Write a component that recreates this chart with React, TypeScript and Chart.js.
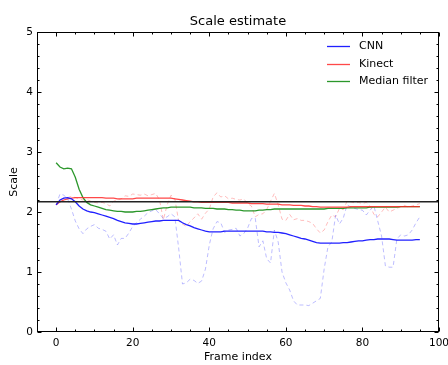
import React, { useEffect, useRef } from "react";
import { Chart, registerables } from "chart.js";

Chart.register(...registerables);

// ---- data ----
const cnnSmoothed = [
  2.12, 2.2, 2.23, 2.24, 2.22, 2.17, 2.1, 2.05, 2.02, 2.0,
  1.99, 1.97, 1.95, 1.93, 1.91, 1.89, 1.86, 1.84, 1.82, 1.81,
  1.8, 1.8, 1.81, 1.82, 1.83, 1.84, 1.85, 1.85, 1.86, 1.86,
  1.86, 1.86, 1.86, 1.82, 1.79, 1.77, 1.74, 1.72, 1.7, 1.68,
  1.67, 1.67, 1.67, 1.67, 1.68, 1.68, 1.68, 1.68, 1.68, 1.68,
  1.68, 1.68, 1.68, 1.68, 1.68, 1.67, 1.67, 1.66, 1.66, 1.65,
  1.64, 1.62, 1.6, 1.58, 1.56, 1.55, 1.53, 1.51, 1.49, 1.48,
  1.48, 1.48, 1.48, 1.48, 1.48, 1.49, 1.49, 1.5, 1.51, 1.52,
  1.52, 1.53, 1.54, 1.54, 1.55, 1.55, 1.55, 1.55, 1.54, 1.53,
  1.53, 1.53, 1.53, 1.53, 1.54, 1.54,
];

const kinectSmoothed = [
  2.12, 2.17, 2.2, 2.22, 2.23, 2.24, 2.24, 2.24, 2.24, 2.24,
  2.24, 2.24, 2.24, 2.23, 2.23, 2.23, 2.22, 2.22, 2.22, 2.22,
  2.22, 2.23, 2.23, 2.23, 2.23, 2.23, 2.23, 2.23, 2.23, 2.23,
  2.23, 2.22, 2.21, 2.2, 2.19, 2.18, 2.17, 2.17, 2.16, 2.16,
  2.16, 2.16, 2.16, 2.16, 2.16, 2.16, 2.15, 2.15, 2.15, 2.15,
  2.15, 2.14, 2.14, 2.14, 2.14, 2.13, 2.13, 2.13, 2.13, 2.12,
  2.12, 2.12, 2.11, 2.11, 2.11, 2.1, 2.1, 2.09, 2.09, 2.08,
  2.08, 2.08, 2.08, 2.08, 2.08, 2.08, 2.08, 2.09, 2.09, 2.09,
  2.09, 2.09, 2.09, 2.09, 2.09, 2.09, 2.09, 2.09, 2.09, 2.09,
  2.09, 2.09, 2.09, 2.09, 2.09, 2.09,
];

const medianFilter = [
  2.82, 2.75, 2.72, 2.73, 2.72, 2.58, 2.38, 2.24, 2.16, 2.12,
  2.1, 2.08, 2.06, 2.04, 2.03, 2.02, 2.01, 2.01, 2.0, 2.0,
  2.0, 2.01, 2.01, 2.02, 2.03, 2.04, 2.05, 2.06, 2.07, 2.07,
  2.08, 2.08, 2.08, 2.08, 2.08, 2.08, 2.07, 2.07, 2.07, 2.06,
  2.06, 2.06, 2.05, 2.05, 2.05, 2.04, 2.04, 2.03, 2.03, 2.02,
  2.02, 2.02, 2.02, 2.03, 2.03, 2.04, 2.04, 2.05, 2.05, 2.05,
  2.05, 2.05, 2.05, 2.05, 2.05, 2.05, 2.05, 2.05, 2.05, 2.05,
  2.05, 2.06, 2.06, 2.06, 2.06, 2.06, 2.07, 2.07, 2.07, 2.07,
  2.07, 2.07, 2.08, 2.08, 2.08, 2.08, 2.08, 2.08, 2.08, 2.08,
  2.09, 2.09, 2.09, 2.09, 2.09, 2.09,
];

const cnnRaw = [
  2.12, 2.3, 2.28, 2.22, 2.05, 1.85, 1.72, 1.64, 1.72, 1.76,
  1.79, 1.73, 1.71, 1.68, 1.55, 1.62, 1.45, 1.56, 1.56, 1.65,
  1.76, 1.82, 1.88, 1.93, 1.99, 2.02, 2.04, 1.97, 1.89, 1.92,
  1.97, 1.92, 1.4, 0.8, 0.82, 0.88, 0.86, 0.81, 0.85, 1.05,
  1.45, 1.72, 1.84, 1.82, 1.66, 1.7, 1.71, 1.73, 1.6, 1.64,
  1.73, 1.89, 1.9, 1.42, 1.52, 1.22, 1.15, 1.7, 1.5, 1.0,
  0.82, 0.7, 0.52, 0.45, 0.45, 0.45, 0.44, 0.48, 0.52, 0.56,
  1.05, 1.42, 1.5, 1.95, 1.8, 1.9, 2.12, 2.08, 2.06, 2.04,
  2.03, 1.95, 2.03, 2.1, 1.85, 1.6, 1.1, 1.08, 1.08, 1.55,
  1.62, 1.6, 1.62, 1.7, 1.82, 1.92,
];

const kinectRaw = [
  2.12, 2.2, 2.23, 2.24, 2.26, 2.24, 2.22, 2.2, 2.21, 2.18,
  2.16, 2.15, 2.16, 2.14, 2.1, 2.18, 2.2, 2.22, 2.27, 2.26,
  2.3, 2.29, 2.28, 2.3, 2.27, 2.29, 2.31, 2.2, 1.87, 2.12,
  2.28, 2.22, 1.85, 1.8, 1.76, 1.84, 1.9, 1.97, 1.88, 1.98,
  2.05, 2.25, 2.32, 2.25, 2.27, 2.22, 2.23, 2.21, 2.2, 2.22,
  2.14, 2.1, 1.92, 1.96, 1.97, 2.04, 2.18, 2.31, 2.12, 1.88,
  1.86, 1.96, 1.87, 1.89, 1.86, 1.86, 1.84, 1.81, 1.72, 1.65,
  1.7, 1.84, 1.95, 1.92, 2.06, 2.04, 2.18, 2.17, 2.15, 2.16,
  2.14, 2.16, 2.1, 1.96, 1.92, 2.0, 2.08, 2.0, 2.03, 2.06,
  2.09, 2.11, 2.08, 2.1, 2.12, 2.14,
];

const groundTruth = 2.17;
const X_MIN = -5;
const X_MAX = 100;
const Y_MIN = 0;
const Y_MAX = 5;
const xMajorStep = 20;
const xMinorStep = 5;
const yMajorStep = 1;
const yMinorStep = 0.2;
const chartTitle = "Scale estimate";

const FONT = '"DejaVu Sans", "Liberation Sans", sans-serif';

const toPoints = (arr: number[]) => arr.map((v, i) => ({ x: i, y: v }));

const frameTicksPlugin = {
  id: "frameTicks",
  afterDatasetsDraw(chart: any) {
    const { ctx, chartArea, scales } = chart;
    const { left, right, top, bottom } = chartArea;
    const xs = scales.x;
    const ys = scales.y;
    ctx.save();
    ctx.strokeStyle = "#000";
    ctx.lineWidth = 1;
    const L = Math.round(left) + 0.5;
    const R = Math.round(right) - 0.5;
    const T = Math.round(top) + 0.5;
    const B = Math.round(bottom) - 0.5;
    ctx.beginPath();
    const nx = Math.round((X_MAX - X_MIN) / xMinorStep);
    for (let k = 0; k <= nx; k++) {
      const v = X_MIN + k * xMinorStep;
      const major = Math.abs(v / xMajorStep - Math.round(v / xMajorStep)) < 1e-6;
      const len = major ? 4 : 2;
      const px = Math.round(xs.getPixelForValue(v)) + 0.5;
      ctx.moveTo(px, B);
      ctx.lineTo(px, B - len);
      ctx.moveTo(px, T);
      ctx.lineTo(px, T + len);
    }
    const ny = Math.round((Y_MAX - Y_MIN) / yMinorStep);
    for (let k = 0; k <= ny; k++) {
      const v = Y_MIN + k * yMinorStep;
      const major = Math.abs(v / yMajorStep - Math.round(v / yMajorStep)) < 1e-6;
      const len = major ? 4 : 2;
      const py = Math.round(ys.getPixelForValue(v)) + 0.5;
      ctx.moveTo(L, py);
      ctx.lineTo(L + len, py);
      ctx.moveTo(R, py);
      ctx.lineTo(R - len, py);
    }
    ctx.stroke();
    ctx.strokeRect(L, T, R - L, B - T);
    ctx.restore();
  },
};

const axesTitlePlugin = {
  id: "axesTitle",
  afterDraw(chart: any) {
    const { ctx, chartArea } = chart;
    ctx.save();
    ctx.font = `13px ${FONT}`;
    ctx.fillStyle = "#000";
    ctx.textAlign = "center";
    ctx.textBaseline = "alphabetic";
    ctx.fillText(chartTitle, (chartArea.left + chartArea.right) / 2, chartArea.top - 7);
    ctx.restore();
  },
};

const insideLegendPlugin = {
  id: "insideLegend",
  afterDraw(chart: any) {
    const { ctx, chartArea } = chart;
    const items = chart.data.datasets.filter((d: any) => d.inLegend);
    ctx.save();
    ctx.font = `11px ${FONT}`;
    ctx.textBaseline = "middle";
    ctx.textAlign = "left";
    items.forEach((d: any, i: number) => {
      const y = Math.round(chartArea.top + 14 + i * 17.5) + 0.5;
      const x0 = chartArea.right - 112;
      ctx.strokeStyle = d.borderColor;
      ctx.lineWidth = 1.3;
      ctx.beginPath();
      ctx.moveTo(x0, y);
      ctx.lineTo(x0 + 23, y);
      ctx.stroke();
      ctx.fillStyle = "#000";
      ctx.fillText(d.label, x0 + 32, y);
    });
    ctx.restore();
  },
};

export default function App() {
  const canvasRef = useRef<HTMLCanvasElement | null>(null);

  useEffect(() => {
    if (!canvasRef.current) return;
    const chart = new Chart(canvasRef.current, {
      type: "line",
      data: {
        datasets: [
          {
            label: "Ground truth",
            data: [
              { x: X_MIN, y: groundTruth },
              { x: X_MAX, y: groundTruth },
            ],
            borderColor: "#222222",
            borderWidth: 1.5,
            pointRadius: 0,
            order: 0,
          },
          {
            label: "CNN",
            inLegend: true,
            data: toPoints(cnnSmoothed),
            borderColor: "rgba(20,20,255,0.95)",
            borderWidth: 1.3,
            pointRadius: 0,
            order: 1,
          },
          {
            label: "Kinect",
            inLegend: true,
            data: toPoints(kinectSmoothed),
            borderColor: "rgba(255,40,40,0.85)",
            borderWidth: 1.3,
            pointRadius: 0,
            order: 2,
          },
          {
            label: "Median filter",
            inLegend: true,
            data: toPoints(medianFilter),
            borderColor: "rgba(20,140,20,0.9)",
            borderWidth: 1.3,
            pointRadius: 0,
            order: 3,
          },
          {
            label: "CNN raw",
            data: toPoints(cnnRaw),
            borderColor: "rgba(90,90,255,0.4)",
            borderWidth: 1,
            borderDash: [4, 3],
            pointRadius: 0,
            order: 4,
          },
          {
            label: "Kinect raw",
            data: toPoints(kinectRaw),
            borderColor: "rgba(255,90,90,0.4)",
            borderWidth: 1,
            borderDash: [4, 3],
            pointRadius: 0,
            order: 5,
          },
        ] as any,
      },
      options: {
        animation: false,
        responsive: false,
        maintainAspectRatio: false,
        layout: { padding: { top: 32, right: 9, bottom: 0, left: 0 } },
        plugins: {
          legend: { display: false },
          tooltip: { enabled: false },
          title: { display: false },
        },
        scales: {
          x: {
            type: "linear",
            min: X_MIN,
            max: X_MAX,
            grid: { display: false, drawTicks: false },
            border: { display: false },
            ticks: {
              stepSize: xMajorStep,
              includeBounds: false,
              autoSkip: false,
              maxRotation: 0,
              color: "#000",
              padding: 5,
              font: { family: FONT, size: 10.5 },
            },
            title: {
              display: true,
              text: "Frame index",
              color: "#000",
              font: { family: FONT, size: 11 },
              padding: { top: 0, bottom: 1.5 },
            },
            afterFit: (s: any) => {
              s.height = 33;
              s.paddingLeft = 0;
              s.paddingRight = 0;
            },
          },
          y: {
            type: "linear",
            min: Y_MIN,
            max: Y_MAX,
            grid: { display: false, drawTicks: false },
            border: { display: false },
            ticks: {
              stepSize: yMajorStep,
              color: "#000",
              padding: 4,
              font: { family: FONT, size: 10.5 },
            },
            title: {
              display: true,
              text: "Scale",
              color: "#000",
              font: { family: FONT, size: 11 },
              padding: { top: 8, bottom: 0 },
            },
            afterFit: (s: any) => {
              s.width = 37;
              s.paddingTop = 0;
              s.paddingBottom = 0;
            },
          },
        },
      },
      plugins: [frameTicksPlugin, axesTitlePlugin, insideLegendPlugin],
    });
    return () => chart.destroy();
  }, []);

  return (
    <div style={{ position: "absolute", left: 0, top: 0, width: 448, height: 365, background: "#fff" }}>
      <canvas ref={canvasRef} width={448} height={365} style={{ display: "block" }} />
    </div>
  );
}
